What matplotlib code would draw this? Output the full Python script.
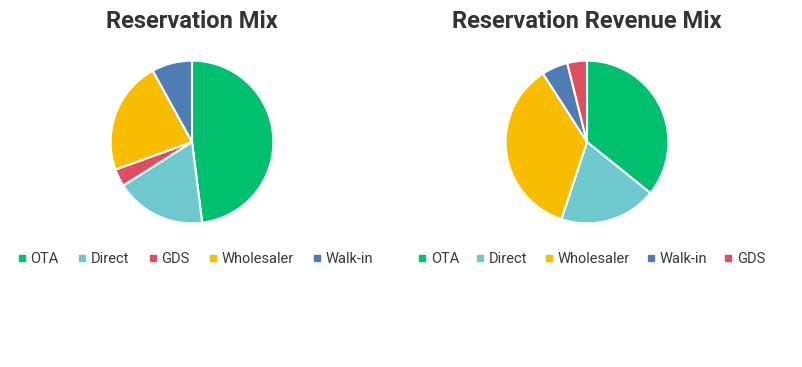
import matplotlib.pyplot as plt
from matplotlib.lines import Line2D

plt.rcParams['font.family'] = ['Roboto', 'DejaVu Sans']

# Reservation mix (share of bookings, %)
mix_labels = ['OTA', 'Direct', 'GDS', 'Wholesaler', 'Walk-in']
mix_values = [48.0, 18.0, 3.5, 22.5, 8.0]

# Reservation revenue mix (share of revenue, %)
rev_labels = ['OTA', 'Direct', 'Wholesaler', 'Walk-in', 'GDS']
rev_values = [35.8, 19.3, 35.8, 5.2, 3.9]

colors = {
    'OTA': '#00BF6F',
    'Direct': '#6DC9CD',
    'GDS': '#DF4E60',
    'Wholesaler': '#F9BD00',
    'Walk-in': '#4E7DB6',
}

W, H = 803, 367
fig = plt.figure(figsize=(W / 100, H / 100), dpi=100)
fig.patch.set_facecolor('white')


def draw_pie(cx, cy, r, labels, values, title, legend_cx, colspace):
    ax = fig.add_axes([(cx - r) / W, 1 - (cy + r) / H, 2 * r / W, 2 * r / H])
    ax.pie(values, colors=[colors[l] for l in labels], startangle=90,
           counterclock=False,
           wedgeprops=dict(edgecolor='white', linewidth=1.5))
    ax.set_xlim(-1.02, 1.02)
    ax.set_ylim(-1.02, 1.02)
    fig.text(cx / W, 1 - 22 / H, title, ha='center', va='center',
             fontsize=17, fontweight='bold', color='#333333')
    handles = [Line2D([], [], marker='s', linestyle='none', markersize=5,
                      markerfacecolor=colors[l], markeredgecolor=colors[l])
               for l in labels]
    fig.legend(handles, labels, loc='center', ncol=len(labels),
               bbox_to_anchor=(legend_cx / W, 1 - 259 / H), frameon=False,
               fontsize=10.5, labelcolor='#383838', handletextpad=0.1,
               columnspacing=colspace, handlelength=1.0)


draw_pie(192, 142, 83, mix_labels, mix_values, 'Reservation Mix', 194, 1.1)
draw_pie(587, 142, 83, rev_labels, rev_values, 'Reservation Revenue Mix',
         590, 0.95)

fig.savefig('out.png', dpi=100)
